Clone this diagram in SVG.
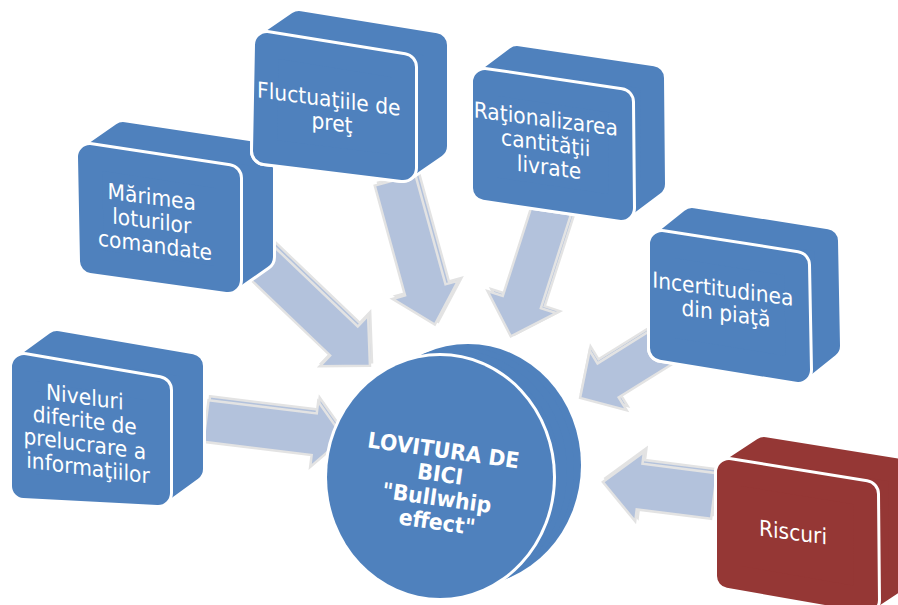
<svg xmlns="http://www.w3.org/2000/svg" xmlns:xlink="http://www.w3.org/1999/xlink" width="898" height="605" viewBox="0 0 898 605">
  <style>
    .arrow { fill: #b3c2dc; stroke: #e3e3e3; stroke-width: 2.5; stroke-linejoin: miter; }
    .side  { fill: #4f81bd; stroke: #4f81bd; stroke-width: 24; stroke-linejoin: round; }
    .rim   { fill: #ffffff; stroke: #ffffff; stroke-width: 30; stroke-linejoin: round; }
    .face  { fill: #4f81bd; stroke: #4f81bd; stroke-width: 24; stroke-linejoin: round; }
    .red .side, .red .face { fill: #953735; stroke: #953735; }
    .label { font-family: "DejaVu Sans", Verdana, sans-serif; font-size: 22px; fill: #ffffff; text-anchor: middle; }
    .title { font-family: "DejaVu Sans", Verdana, sans-serif; font-size: 22px; font-weight: bold; fill: #ffffff; text-anchor: middle; }
  </style>
  <defs>
    <!-- block arrows, drawn along +x from tail (0,0) to tip -->
    <path id="a1" d="M0,-21 L109,-21 L109,-33 L139,0 L109,33 L109,21 L0,21 Z"/>
    <path id="a2" d="M0,-20 L123,-20 L123,-35 L159,0 L123,35 L123,20 L0,20 Z"/>
    <path id="a3" d="M0,-21 L114,-21 L114,-34 L150,0 L114,34 L114,21 L0,21 Z"/>
    <path id="a4" d="M0,-20 L102,-20 L102,-36 L138,0 L102,36 L102,20 L0,20 Z"/>
    <path id="a5" d="M0,-20 L67,-20 L67,-35 L100,0 L67,35 L67,20 L0,20 Z"/>
    <path id="a6" d="M0,-23 L75,-23 L75,-35 L112,0 L75,35 L75,23 L0,23 Z"/>
  </defs>

  <!-- connectors: wide arrows pointing at the central disc -->
  <g id="connectors">
    <g transform="translate(206,421) rotate(7)">
      <use xlink:href="#a1" class="arrow" transform="translate(1,-4)"/>
      <use xlink:href="#a1" class="arrow"/>
    </g>
    <g transform="translate(255,256) rotate(43.7)">
      <use xlink:href="#a2" class="arrow" transform="translate(-1,-4)"/>
      <use xlink:href="#a2" class="arrow"/>
    </g>
    <g transform="translate(395,180) rotate(74.6)">
      <use xlink:href="#a3" class="arrow" transform="translate(-2,-4)"/>
      <use xlink:href="#a3" class="arrow"/>
    </g>
    <g transform="translate(553,205) rotate(107.8)">
      <use xlink:href="#a4" class="arrow" transform="translate(-3,-3)"/>
      <use xlink:href="#a4" class="arrow"/>
    </g>
    <g transform="translate(665,345) rotate(148.1)">
      <use xlink:href="#a5" class="arrow" transform="translate(-3,3)"/>
      <use xlink:href="#a5" class="arrow"/>
    </g>
    <g transform="translate(714,496) rotate(187.2)">
      <use xlink:href="#a6" class="arrow" transform="translate(-2,4)"/>
      <use xlink:href="#a6" class="arrow"/>
    </g>
  </g>

  <!-- extruded boxes: side hull, white rim, front face, label -->
  <g id="node-niveluri">
    <path class="rim" d="M24,367 L57,343 L191,366 L191,469 L158,493 L24,486 Z" stroke-width="28"/>
    <path class="side" d="M24,367 L57,343 L191,366 L191,469 L158,493 L24,486 Z"/>
    <path class="rim" d="M24,367 L158,390 L158,493 L24,486 Z"/>
    <path class="face" d="M24,367 L158,390 L158,493 L24,486 Z"/>
    <text class="label" transform="matrix(0.92,0.12,0,1,7.04,-10.56)">
      <tspan x="88" y="405">Niveluri</tspan>
      <tspan x="88" y="428.5">diferite de</tspan>
      <tspan x="88" y="452">prelucrare a</tspan>
      <tspan x="88" y="475.5">informaţiilor</tspan>
    </text>
  </g>

  <g id="node-marimea">
    <path class="rim" d="M90,157 L123,134 L261,155 L261,257 L228,280 L92,261 Z" stroke-width="28"/>
    <path class="side" d="M90,157 L123,134 L261,155 L261,257 L228,280 L92,261 Z"/>
    <path class="rim" d="M90,157 L228,178 L228,280 L92,261 Z"/>
    <path class="face" d="M90,157 L228,178 L228,280 L92,261 Z"/>
    <text class="label" transform="matrix(0.92,0.12,0,1,12.4,-18.6)">
      <tspan x="155" y="205">Mărimea</tspan>
      <tspan x="155" y="229">loturilor</tspan>
      <tspan x="155" y="253">comandate</tspan>
    </text>
  </g>

  <g id="node-fluctuatiile">
    <path class="rim" d="M267,45 L299,23 L435,45 L435,146 L403,168 L265,151 Z" stroke-width="28"/>
    <path class="side" d="M267,45 L299,23 L435,45 L435,146 L403,168 L265,151 Z"/>
    <path class="rim" d="M267,45 L403,67 L403,168 L265,151 Z"/>
    <path class="face" d="M267,45 L403,67 L403,168 L265,151 Z"/>
    <text class="label" transform="matrix(0.92,0.12,0,1,26.56,-39.84)">
      <tspan x="332" y="107">Fluctuaţiile de</tspan>
      <tspan x="332" y="130.5">preţ</tspan>
    </text>
  </g>

  <g id="node-rationalizarea">
    <path class="rim" d="M485,82 L517,58 L652,78 L653,184 L621,208 L485,188 Z" stroke-width="28"/>
    <path class="side" d="M485,82 L517,58 L652,78 L653,184 L621,208 L485,188 Z"/>
    <path class="rim" d="M485,82 L620,102 L621,208 L485,188 Z"/>
    <path class="face" d="M485,82 L620,102 L621,208 L485,188 Z"/>
    <text class="label" transform="matrix(0.92,0.12,0,1,43.92,-65.88)">
      <tspan x="549" y="127">Raţionalizarea</tspan>
      <tspan x="549" y="151">cantităţii</tspan>
      <tspan x="549" y="175">livrate</tspan>
    </text>
  </g>

  <g id="node-incertitudinea">
    <path class="rim" d="M662,244 L692,220 L826,241 L828,346 L798,370 L662,348 Z" stroke-width="28"/>
    <path class="side" d="M662,244 L692,220 L826,241 L828,346 L798,370 L662,348 Z"/>
    <path class="rim" d="M662,244 L796,265 L798,370 L662,348 Z"/>
    <path class="face" d="M662,244 L796,265 L798,370 L662,348 Z"/>
    <text class="label" transform="matrix(0.92,0.12,0,1,58.08,-87.12)">
      <tspan x="726" y="297">Incertitudinea</tspan>
      <tspan x="726" y="321">din piaţă</tspan>
    </text>
  </g>

  <g id="node-riscuri" class="red">
    <path class="rim" d="M729,472 L764,449 L900,471 L901,577 L866,600 L729,576 Z" stroke-width="28"/>
    <path class="side" d="M729,472 L764,449 L900,471 L901,577 L866,600 L729,576 Z"/>
    <path class="rim" d="M729,472 L865,494 L866,600 L729,576 Z"/>
    <path class="face" d="M729,472 L865,494 L866,600 L729,576 Z"/>
    <text class="label" transform="matrix(0.92,0.12,0,1,63.44,-95.16)">
      <tspan x="793" y="540">Riscuri</tspan>
    </text>
  </g>

  <!-- central disc: stacked ellipses form the thickness, front face on top -->
  <g id="node-center">
    <g fill="#ffffff" stroke="#ffffff" stroke-width="6">
      <ellipse cx="468" cy="465" rx="113" ry="121"/>
      <ellipse cx="461" cy="468" rx="113" ry="121"/>
      <ellipse cx="454" cy="471" rx="113" ry="121"/>
      <ellipse cx="447" cy="474" rx="113" ry="121"/>
    </g>
    <g fill="#4f81bd">
      <ellipse cx="468" cy="465" rx="113" ry="121"/>
      <ellipse cx="461" cy="468" rx="113" ry="121"/>
      <ellipse cx="454" cy="471" rx="113" ry="121"/>
      <ellipse cx="447" cy="474" rx="113" ry="121"/>
    </g>
    <ellipse cx="440" cy="477" rx="113" ry="121" fill="#4f81bd" stroke="#ffffff" stroke-width="6" paint-order="stroke"/>
    <text class="title" transform="rotate(8 441 494) translate(441 0) scale(0.93 1) translate(-441 0)">
      <tspan x="441" y="458">LOVITURA DE</tspan>
      <tspan x="441" y="482">BICI</tspan>
      <tspan x="441" y="506">"Bullwhip</tspan>
      <tspan x="441" y="530">effect"</tspan>
    </text>
  </g>
</svg>
